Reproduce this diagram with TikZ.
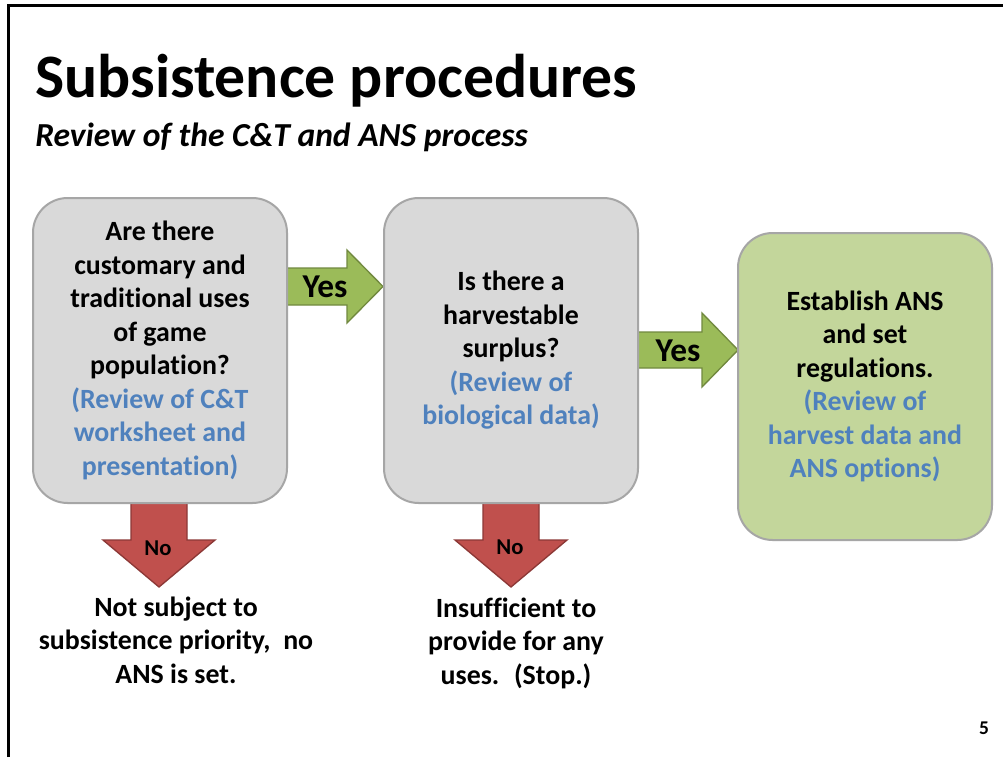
\documentclass[tikz,border=0pt]{standalone}
\usepackage{fontspec}
\setmainfont{Carlito}[Ligatures=NoCommon]
\definecolor{boxgray}{HTML}{D9D9D9}
\definecolor{boxline}{HTML}{A6A6A6}
\definecolor{boxgreen}{HTML}{C3D69B}
\definecolor{arrgreen}{HTML}{9BBB59}
\definecolor{arrgreenline}{HTML}{71893F}
\definecolor{arrred}{HTML}{C0504D}
\definecolor{arrredline}{HTML}{8C3836}
\definecolor{reviewblue}{HTML}{4F81BD}
\newcommand\mybodyfont{\fontsize{20.9}{25.1}\selectfont\bfseries}
\begin{document}
\begin{tikzpicture}[x=0.75pt,y=-0.75pt,
  flowbox/.style={draw=boxline, line width=1.5pt, rounded corners=26pt,
    minimum width=190.5pt, align=center, inner sep=0pt, font=\mybodyfont},
  graybox/.style={flowbox, fill=boxgray, minimum height=228.75pt},
  greenbox/.style={flowbox, fill=boxgreen, minimum height=230.25pt},
  yesarrow/.style={fill=arrgreen, draw=arrgreenline, line width=1pt, line join=miter},
  noarrow/.style={fill=arrred, draw=arrredline, line width=1pt, line join=miter},
  yeslabel/.style={font=\fontsize{25}{30}\selectfont\bfseries, inner sep=0pt},
  nolabel/.style={font=\fontsize{17}{20}\selectfont\bfseries, inner sep=0pt},
  outcome/.style={align=center, font=\mybodyfont, inner sep=0pt}
]
\useasboundingbox (0,0) rectangle (1003,757);
\fill[white] (0,0) rectangle (1003,757);
% slide frame
\draw[line width=2.25pt] (8,757) -- (8,5) -- (1003,5);

% title
\node[anchor=base west, inner sep=0pt, font=\fontsize{46.3}{55}\selectfont\bfseries] (title) at (35,97) {Subsistence procedures};
\node[anchor=base west, inner sep=0pt, font=\fontsize{25.2}{30}\selectfont\bfseries\itshape] (subtitle) at (35,146) {Review of the C\&T and ANS process};

% block arrows
\draw[yesarrow] (284,268) -- (347,268) -- (347,250) -- (383,286.5) -- (347,323) -- (347,305) -- (284,305) -- cycle;
\draw[yesarrow] (635,332) -- (702,332) -- (702,313) -- (738,350) -- (702,387) -- (702,368) -- (635,368) -- cycle;
\draw[noarrow] (131,501) -- (187,501) -- (187,540) -- (215,540) -- (159,587) -- (103,540) -- (131,540) -- cycle;
\draw[noarrow] (483,501) -- (539,501) -- (539,540) -- (567,540) -- (511,587) -- (455,540) -- (483,540) -- cycle;

% boxes
\node[graybox] (q1) at (160,350.5) {Are there\\customary and\\traditional uses\\of game\\population?\\\textcolor{reviewblue}{(Review of C\&T}\\\textcolor{reviewblue}{worksheet and}\\\textcolor{reviewblue}{presentation)}};
\node[graybox] (q2) at (511,350.5) {Is there a\\harvestable\\surplus?\\\textcolor{reviewblue}{(Review of}\\\textcolor{reviewblue}{biological data)}};
\node[greenbox] (res) at (865,386.5) {Establish ANS\\and set\\regulations.\\\textcolor{reviewblue}{(Review of}\\\textcolor{reviewblue}{harvest data and}\\\textcolor{reviewblue}{ANS options)}};

% arrow labels
\node[yeslabel] (yes1) at (325,287) {Yes};
\node[yeslabel] (yes2) at (678,351) {Yes};
\node[nolabel] (no1) at (158,548) {No};
\node[nolabel] (no2) at (510,547) {No};

% outcomes
\node[outcome] (out1) at (176,640) {Not subject to\\subsistence priority,~ no\\ANS is set.};
\node[outcome] (out2) at (516,643) {Insufficient to\\provide for any\\uses.~ (Stop.)};

% page number
\node[inner sep=0pt, font=\fontsize{14.6}{17}\selectfont\bfseries] (pnum) at (984,728) {5};
\end{tikzpicture}
\end{document}
